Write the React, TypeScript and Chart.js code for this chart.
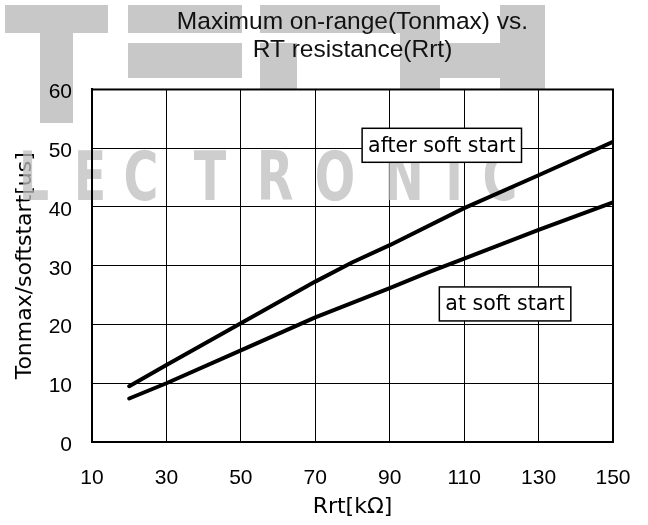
import React, { useEffect, useRef } from "react";
import { Chart, registerables } from "chart.js";

Chart.register(...registerables);

// ---- data ----
const rrtAfter = [20, 30, 50, 70, 80, 90, 110, 130, 150];
const tonAfter = [9.5, 13.1, 20.2, 27.3, 30.6, 33.5, 39.8, 45.4, 51.1];
const rrtAt = [20, 30, 50, 70, 90, 100, 110, 130, 150];
const tonAt = [7.4, 10.0, 15.6, 21.2, 26.2, 28.8, 31.2, 36.1, 40.8];

const seriesNames = ["after soft start", "at soft start"];
const noteX = [104.0, 121.0];
const noteY = [50.5, 23.5];

const titleLines = ["Maximum on-range(Tonmax) vs.", "RT resistance(Rrt)"];
const xTitle = "Rrt[kΩ]";
const yTitle = "Tonmax/softstart[us]";
const xMin = 10, xMax = 150, xStep = 20;
const yMin = 0, yMax = 60, yStep = 10;

const watermarkWord = "ELECTRONIC";

const backgroundPlugin = {
  id: "bgWatermark",
  beforeDraw(chart: any) {
    const { ctx, chartArea } = chart;
    ctx.save();
    ctx.fillStyle = "#ffffff";
    ctx.fillRect(0, 0, chart.width, chart.height);
    ctx.fillStyle = "#c8c8c8";
    const blocks = [
      [5, 5, 103, 28], [40, 33, 33, 90],
      [128, 5, 114, 28], [128, 43, 114, 35],
      [260, 5, 140, 28], [260, 43, 37, 46],
      [400, 5, 40, 84], [440, 43, 60, 35], [500, 5, 45, 84],
    ];
    for (const b of blocks) ctx.fillRect(b[0], b[1], b[2], b[3]);
    ctx.fillStyle = "#ffffff";
    ctx.fillRect(chartArea.left, chartArea.top, chartArea.right - chartArea.left, chartArea.bottom - chartArea.top);
    ctx.restore();
  },
  beforeDatasetsDraw(chart: any) {
    const { ctx } = chart;
    const centers = [-18, 34, 90, 141, 210, 275, 335, 404, 454, 500];
    ctx.save();
    ctx.fillStyle = "rgba(190,190,190,0.75)";
    ctx.font = 'bold 68px "DejaVu Sans"';
    ctx.textAlign = "center";
    ctx.textBaseline = "alphabetic";
    watermarkWord.split("").forEach((ch, i) => {
      ctx.save();
      ctx.translate(centers[i], 200);
      ctx.scale(0.7, 1);
      ctx.fillText(ch, 0, 0);
      ctx.restore();
    });
    ctx.restore();
  },
  afterDatasetsDraw(chart: any) {
    const { ctx, chartArea, scales } = chart;
    ctx.save();
    ctx.strokeStyle = "#000";
    ctx.lineWidth = 2;
    ctx.strokeRect(chartArea.left, chartArea.top, chartArea.right - chartArea.left, chartArea.bottom - chartArea.top);
    ctx.font = '20.5px "DejaVu Sans"';
    ctx.textAlign = "center";
    ctx.textBaseline = "middle";
    seriesNames.forEach((name, i) => {
      const cx = scales.x.getPixelForValue(noteX[i]);
      const cy = scales.y.getPixelForValue(noteY[i]);
      const w = ctx.measureText(name).width + 12;
      const h = 34;
      ctx.fillStyle = "#fff";
      ctx.fillRect(cx - w / 2, cy - h / 2, w, h);
      ctx.lineWidth = 1.5;
      ctx.strokeStyle = "#000";
      ctx.strokeRect(cx - w / 2, cy - h / 2, w, h);
      ctx.fillStyle = "#000";
      ctx.fillText(name, cx, cy + 1);
    });
    ctx.restore();
  },
};

export default function App() {
  const ref = useRef<HTMLCanvasElement>(null);
  useEffect(() => {
    if (!ref.current) return;
    const lineStyle = {
      borderColor: "#000",
      borderWidth: 4,
      pointRadius: 0,
      borderCapStyle: "round",
      borderJoinStyle: "round",
      tension: 0,
      fill: false,
    };
    const chart = new Chart(ref.current, {
      type: "line",
      data: {
        datasets: [
          { label: seriesNames[0], data: rrtAfter.map((x, i) => ({ x, y: tonAfter[i] })), ...lineStyle },
          { label: seriesNames[1], data: rrtAt.map((x, i) => ({ x, y: tonAt[i] })), ...lineStyle },
        ],
      },
      options: {
        animation: false,
        responsive: false,
        devicePixelRatio: 1,
        layout: { padding: { left: 0, right: 35, top: 0, bottom: 0 } },
        plugins: {
          legend: { display: false },
          tooltip: { enabled: false },
          title: {
            display: true,
            text: titleLines,
            fullSize: false,
            color: "#111",
            font: { family: '"Liberation Sans", Arial, sans-serif', size: 24.5, weight: "normal", lineHeight: 1.12 },
            padding: { top: 9, bottom: 25.6 },
          },
        },
        scales: {
          x: {
            type: "linear",
            min: xMin,
            max: xMax,
            afterFit: (s: any) => { s.height = 83; },
            ticks: {
              stepSize: xStep,
              color: "#000",
              padding: 0,
              maxRotation: 0,
              font: { family: '"Liberation Sans", Arial, sans-serif', size: 21 },
            },
            grid: { color: "#000", lineWidth: 1, drawTicks: true, tickLength: 24, tickColor: "rgba(0,0,0,0)" },
            border: { color: "#000", width: 2 },
            title: {
              display: true,
              text: xTitle,
              color: "#000",
              font: { family: '"DejaVu Sans", sans-serif', size: 22, lineHeight: 1.2 },
              padding: { top: 0, bottom: 4.3 },
            },
          },
          y: {
            type: "linear",
            min: yMin,
            max: yMax,
            afterFit: (s: any) => { s.width = 92; },
            ticks: {
              stepSize: yStep,
              color: "#000",
              padding: 0,
              labelOffset: 3,
              font: { family: '"Liberation Sans", Arial, sans-serif', size: 21 },
            },
            grid: { color: "#000", lineWidth: 1, drawTicks: true, tickLength: 20, tickColor: "rgba(0,0,0,0)" },
            border: { color: "#000", width: 2 },
            title: {
              display: true,
              text: yTitle,
              color: "#000",
              font: { family: '"DejaVu Sans", sans-serif', size: 22, lineHeight: 1.2 },
              padding: { top: 12.5, bottom: 0 },
            },
          },
        },
      },
      plugins: [backgroundPlugin],
    } as any);
    return () => chart.destroy();
  }, []);
  return (
    <div style={{ position: "fixed", left: 0, top: 0, width: 648, height: 525, background: "#fff" }}>
      <canvas ref={ref} width={648} height={525} style={{ display: "block", width: 648, height: 525 }} />
    </div>
  );
}
